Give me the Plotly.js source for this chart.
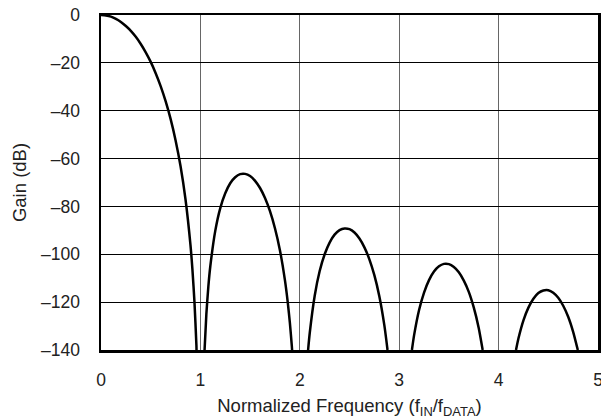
<!DOCTYPE html>
<html>
<head>
<meta charset="utf-8">
<script src="https://cdn.plot.ly/plotly-3.0.1.min.js"></script>
<style>html,body{margin:0;padding:0;background:#fff;}#chart{width:601px;height:419px;}</style>
</head>
<body>
<div id="chart"></div>
<script>
// Normalized frequency (fIN/fDATA) and gain (dB); null separates lobes
var freq = [
  0, 0.05, 0.1, 0.15, 0.2, 0.25, 0.3, 0.35, 0.4, 0.45, 0.5, 0.55, 0.6, 0.65, 0.7, 0.75, 0.8, 0.85, 0.9, 0.92, 0.94, 0.96, 0.961,
  null,
  1.042, 1.06, 1.08, 1.1, 1.15, 1.2, 1.25, 1.3, 1.35, 1.4, 1.45, 1.5, 1.55, 1.6, 1.65, 1.7, 1.75, 1.8, 1.85, 1.88, 1.9, 1.92, 1.9225,
  null,
  2.0835, 2.1, 2.15, 2.2, 2.25, 2.3, 2.35, 2.4, 2.45, 2.5, 2.55, 2.6, 2.65, 2.7, 2.75, 2.8, 2.85, 2.88, 2.8825,
  null,
  3.128, 3.15, 3.2, 3.25, 3.3, 3.35, 3.4, 3.45, 3.5, 3.55, 3.6, 3.65, 3.7, 3.75, 3.8, 3.8397,
  null,
  4.175, 4.2, 4.25, 4.3, 4.35, 4.4, 4.45, 4.5, 4.55, 4.6, 4.65, 4.7, 4.75, 4.797
];
var gain = [
  0, -0.2, -0.7, -1.6, -2.9, -4.6, -6.6, -9.1, -12.1, -15.6, -19.6, -24.3, -29.7, -36.0, -43.4, -52.3, -63.1, -77.0, -96.1, -106.5, -119.8, -138.1, -140,
  null,
  -140, -125.0, -113.5, -104.9, -90.1, -80.7, -74.5, -70.3, -67.8, -66.5, -66.4, -67.3, -69.3, -72.3, -76.5, -82.0, -89.1, -98.3, -110.7, -120.5, -128.6, -138.5, -140,
  null,
  -140, -132.9, -117.3, -107.0, -100.0, -95.1, -91.8, -89.9, -89.2, -89.5, -90.9, -93.4, -97.1, -102.1, -108.7, -117.5, -129.5, -139.1, -140,
  null,
  -140, -133.8, -123.3, -116.0, -110.8, -107.2, -105.0, -104.0, -104.1, -105.3, -107.5, -111.0, -115.7, -122.2, -130.8, -140,
  null,
  -140, -135.1, -127.6, -122.3, -118.6, -116.2, -115.1, -115.0, -116.1, -118.2, -121.5, -126.1, -132.4, -140
];
var xTicks = [0, 1, 2, 3, 4, 5];
var yTicks = [0, -20, -40, -60, -80, -100, -120, -140];

var fam = '"Liberation Sans", Arial, Helvetica, sans-serif';

Plotly.newPlot('chart', [{
  x: freq, y: gain, type: 'scatter', mode: 'lines',
  connectgaps: false,
  line: {color: '#000', width: 2.5, shape: 'spline', smoothing: 0.6},
  hoverinfo: 'skip'
}], {
  width: 601, height: 419,
  margin: {l: 101, r: 3, t: 15, b: 69, pad: 0},
  paper_bgcolor: '#fff', plot_bgcolor: '#fff',
  showlegend: false,
  font: {family: fam, size: 17, color: '#222'},
  xaxis: {
    range: [0, 5], tickvals: xTicks, ticktext: xTicks.map(String),
    showgrid: true, gridcolor: '#666', gridwidth: 1.2,
    zeroline: false, showline: true, mirror: true, linecolor: '#000', linewidth: 2.5,
    ticks: '', ticklabelstandoff: 12, ticklabeloverflow: 'allow',
    tickfont: {family: fam, size: 17.5, color: '#222'},
    automargin: false,
    title: {text: 'Normalized Frequency (f<sub>IN</sub>/f<sub>DATA</sub>)', font: {family: fam, size: 18.5, color: '#222'}, standoff: 18}
  },
  yaxis: {
    range: [-140, 0], tickvals: yTicks, ticktext: yTicks.map(function(v){ return v < 0 ? '\u2013' + Math.abs(v) : String(v); }),
    showgrid: true, gridcolor: '#000', gridwidth: 1,
    zeroline: false, showline: true, mirror: true, linecolor: '#000', linewidth: 2.5,
    ticks: '', ticklabelstandoff: 15,
    tickfont: {family: fam, size: 17.5, color: '#222'},
    automargin: false,
    title: {text: 'Gain (dB)', font: {family: fam, size: 18.5, color: '#222'}, standoff: 10}
  }
}, {staticPlot: true, displayModeBar: false});
</script>
</body>
</html>
